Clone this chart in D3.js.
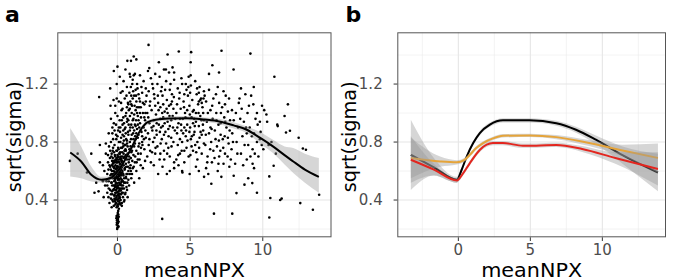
<!DOCTYPE html>
<html><head><meta charset="utf-8">
<script src="https://cdn.jsdelivr.net/npm/d3@7"></script>
<style>body{margin:0;background:#fff} text{font-family:"DejaVu Sans",sans-serif}</style>
</head><body><svg id="c" width="675" height="280"></svg>
<script>
// ---------- tick values ----------
const majorX = [0, 5, 10];
const minorX = [-2.5, 2.5, 7.5, 12.5];
const majorY = [0.4, 0.8, 1.2];
const minorY = [0.2, 0.6, 1.0, 1.4];
const tickLabelsX = ["0", "5", "10"];
const tickLabelsY = ["0.4", "0.8", "1.2"];

// ---------- panel a: scatter points [meanNPX, sqrt(sigma)] ----------
const pointsColumn = [[0.0,0.21],[0.05,0.22],[-0.05,0.23],[0.02,0.24],[0.08,0.25],[-0.03,0.26],[0.04,0.27],[0.0,0.28],[-0.06,0.29],[0.06,0.3],[0.02,0.31],[-0.02,0.2],[0.07,0.215],[-0.04,0.245],[0.03,0.255],[0.01,0.265],[-0.07,0.275],[0.09,0.285],[0.0,0.295],[0.05,0.325],[-0.02,0.235]];
const pointsCore = [[-0.25,0.36],[0.1,0.34],[-0.1,0.38],[0.2,0.37],[0.0,0.4],[-0.2,0.41],[0.15,0.42],[0.05,0.39],[-0.05,0.43],[0.25,0.44],[-0.15,0.45],[0.08,0.46],[-0.28,0.47],[0.18,0.48],[-0.02,0.49],[0.28,0.5],[-0.12,0.51],[0.12,0.52],[-0.22,0.53],[0.03,0.54],[0.22,0.55],[-0.08,0.56],[0.14,0.57],[-0.18,0.58],[0.06,0.59],[-0.26,0.6],[0.26,0.61],[-0.04,0.62],[0.1,0.63],[-0.14,0.64],[0.2,0.65],[0.0,0.66],[-0.24,0.67],[0.16,0.68],[-0.06,0.69],[0.24,0.7],
[0.02,0.355],[-0.09,0.405],[0.17,0.415],[-0.19,0.435],[0.11,0.445],[-0.01,0.455],[0.23,0.465],[-0.23,0.475],[0.07,0.485],[-0.11,0.495],[0.19,0.505],[-0.03,0.515],[0.27,0.525],[-0.17,0.535],[0.09,0.545],[-0.27,0.555],[0.13,0.565],[-0.07,0.575],[0.21,0.585],[-0.21,0.595],[0.04,0.605],[-0.13,0.615],[0.29,0.625],[-0.01,0.635],[0.17,0.645],[-0.29,0.655],[0.07,0.665],[-0.09,0.675],[0.27,0.685],[0.01,0.695],
[-0.16,0.39],[0.04,0.37],[0.14,0.395],[-0.06,0.35],[0.3,0.45],[0.09,0.43],[-0.1,0.47],[0.01,0.5],[0.16,0.51],[-0.2,0.5],[0.25,0.57],[-0.15,0.55],[0.05,0.56],[0.33,0.59],[-0.05,0.6],[0.12,0.61],[-0.25,0.63],[0.2,0.62],[-0.1,0.66],[0.3,0.67],[0.08,0.7],[-0.18,0.71],[0.18,0.73],[-0.03,0.74],[0.13,0.72],
[-0.45,0.41],[-0.38,0.46],[-0.3,0.39],[-0.22,0.43],[-0.14,0.37],[-0.07,0.42],[0.0,0.36],[0.07,0.41],[0.15,0.38],[0.22,0.4],[0.3,0.36],[0.38,0.42],[0.45,0.39],[0.52,0.44],[-0.42,0.52],[-0.34,0.55],[-0.26,0.5],[-0.18,0.54],[-0.1,0.52],[-0.02,0.55],[0.06,0.5],[0.14,0.54],[0.22,0.51],[0.3,0.54],[0.38,0.5],[0.46,0.55],[0.54,0.52],[-0.46,0.61],[-0.38,0.64],[-0.3,0.58],[-0.22,0.62],[-0.14,0.59],[-0.06,0.63],[0.02,0.58],[0.1,0.62],[0.18,0.59],[0.26,0.63],[0.34,0.6],[0.42,0.64],[0.5,0.61],[0.58,0.65],[-0.4,0.72],[-0.32,0.69],[-0.24,0.73],[-0.16,0.7],[-0.08,0.74],[0.0,0.71],[0.08,0.75],[0.16,0.72],[0.24,0.76],[0.32,0.73],[0.4,0.77],[0.48,0.74],[0.56,0.78],[-0.35,0.44],[-0.27,0.47],[-0.19,0.4],[-0.11,0.45],[-0.03,0.48],[0.05,0.44],[0.13,0.47],[0.21,0.44],[0.29,0.48],[0.37,0.45],[0.45,0.48],[-0.33,0.57],[-0.25,0.56],[-0.17,0.49],[-0.09,0.58],[-0.01,0.61],[0.09,0.57],[0.17,0.6],[0.25,0.58],[0.33,0.66],[0.41,0.57],[-0.37,0.67],[-0.29,0.63],[-0.21,0.66],[-0.13,0.68],[-0.05,0.66],[0.03,0.68],[0.11,0.66],[0.19,0.69],[0.27,0.67],[0.35,0.7],[0.43,0.69],[0.51,0.7],
[-0.5,0.47],[-0.6,0.53],[-0.55,0.64],[-0.65,0.71],[-0.7,0.5],[-0.5,0.74],[-0.42,0.58],[-0.62,0.42],[0.62,0.49],[0.68,0.52],[0.58,0.56],[0.72,0.63],[0.66,0.47],[0.75,0.54],
[-0.3,0.76],[-0.2,0.88],[-0.1,0.92],[0.0,0.84],[0.1,0.9],[0.2,0.8],[0.3,0.95],[0.4,0.88],[-0.35,0.86],[0.25,1.07],[-0.05,1.1],[0.35,1.15]];
const pointsLeft = [[-0.35,0.4],[-0.45,0.44],[-0.6,0.48],[-0.4,0.52],[-0.55,0.55],[-0.7,0.58],[-0.38,0.6],[-0.5,0.63],[-0.65,0.66],[-0.42,0.7],[-0.8,0.72],[-0.33,0.74],[-0.58,0.77],[-0.45,0.8],[-0.7,0.45],[-0.36,0.5],[-0.48,0.57],[-0.62,0.61],[-0.32,0.65],[-0.75,0.53],[-0.9,0.6],[-0.52,0.69],[-0.4,0.35],[-0.55,0.38],[-0.85,0.5],[-1.0,0.64],[-0.3,0.82],[-0.6,0.86],[-0.35,0.9],[-0.8,0.79],[-0.95,0.42],[-0.45,0.96],
[-1.26,1.11],[-0.5,1.17],[-0.25,1.29],[0.0,1.32],[-1.21,0.66],[-1.8,0.72],[-2.74,0.72],[-3.27,0.67],[-1.58,0.45],[-2.1,0.59],[-1.21,0.78],[-1.3,0.46],[-1.0,0.53],[-1.46,0.52],[-0.27,1.09],[-0.48,1.05],[-0.15,1.0]];
const pointsRise = [[0.35,0.48],[0.45,0.52],[0.6,0.55],[0.4,0.58],[0.75,0.6],[0.5,0.62],[0.9,0.64],[0.35,0.66],[0.65,0.68],[0.8,0.7],[0.42,0.72],[0.95,0.73],[0.55,0.75],[0.7,0.77],[0.38,0.79],[0.85,0.8],[0.6,0.82],[0.45,0.84],[0.98,0.85],[0.72,0.87],[0.5,0.89],[0.88,0.9],[0.35,0.92],[0.65,0.94],[0.55,0.45],[0.8,0.5],[0.95,0.55],[0.48,0.4],[0.7,0.42],[0.62,0.58],[0.4,0.64],[0.78,0.66],[0.52,0.69],[0.92,0.69],[0.58,0.71],[0.32,0.76],[0.82,0.75],[0.66,0.79],[0.44,0.81],[0.93,0.82],[0.57,0.86],[0.77,0.92],[0.4,0.97],[0.86,0.98],[0.6,1.0],[0.35,1.03],[0.75,1.06],[0.5,1.1],[0.95,1.12],[0.65,1.18],[0.42,1.22],[0.88,1.25],[0.55,1.3],[0.3,0.38],[0.85,0.58],[0.38,0.53],
[-0.2,0.78],[0.1,0.8],[0.25,0.83],[-0.1,0.85],[0.05,0.88],[0.2,0.9],[-0.25,0.93],[0.15,0.95],[0.0,0.98],[0.28,1.02],[-0.15,1.05],[0.1,1.08],[0.22,1.14],[-0.05,1.2],[0.16,1.25],[0.05,0.76],[-0.08,0.82],[0.18,0.87],
[0.6,0.63],[0.7,0.72],[0.8,0.68],[0.9,0.77],[1.0,0.74],[1.1,0.82],[1.2,0.79],[1.3,0.86],[1.4,0.83],[1.5,0.9],[1.6,0.88],[0.65,0.81],[0.75,0.85],[0.85,0.88],[0.95,0.92],[1.05,0.95],[1.15,0.88],[1.25,0.91],[1.35,1.0],[1.45,0.95],[1.55,1.0],[0.55,0.9],[0.68,0.96],[0.78,1.02],[0.88,1.08],[0.98,1.0],[1.08,1.15],[1.18,1.05],[1.28,1.12],[1.38,1.17],[1.48,1.04],[0.62,1.12],[0.72,1.07],[0.82,1.14],[0.92,1.18],[1.02,1.2],[1.12,1.26],[0.5,0.78],[0.58,0.74],[0.7,0.58],[0.85,0.62],[0.92,0.6],[1.02,0.67],[1.12,0.63],[1.22,0.7],[1.32,0.66],[1.42,0.72],[1.52,0.68],[1.62,0.76],[1.72,0.78],[1.82,0.82],[1.92,0.88],
[1.05,0.62],[1.2,0.66],[1.4,0.68],[1.1,0.71],[1.6,0.72],[1.3,0.74],[1.85,0.75],[1.15,0.77],[1.5,0.79],[1.7,0.8],[1.25,0.82],[1.95,0.83],[1.45,0.85],[1.08,0.86],[1.65,0.87],[1.35,0.89],[1.8,0.9],[1.2,0.92],[1.55,0.93],[1.9,0.95],[1.1,0.96],[1.4,0.98],[1.75,1.0],[1.25,1.02],[1.6,1.04],[1.0,1.05],[1.85,1.06],[1.3,1.08],[1.5,1.1],[1.15,1.12],[1.7,1.14],[1.95,1.17],[1.35,1.2],[1.05,1.23],[1.55,1.26],[1.8,1.22],[1.12,1.39],[1.3,1.37],[0.93,1.36],[0.68,1.36],[1.2,1.27],[0.84,1.27],[1.0,0.58],[1.3,0.6],[1.6,0.64],[1.9,0.67],[1.5,0.55],[1.15,0.52],[1.75,0.62],[1.4,0.92],[1.62,0.97],[1.28,0.95],[1.92,1.0],[1.05,0.9],[1.7,0.84],[1.45,0.77],[1.22,0.84],
[0.35,0.85],[0.45,0.93],[0.55,0.98],[0.65,1.04],[0.75,0.95],[0.85,1.03],[0.95,1.06],[1.05,1.1],[1.15,0.99],[1.25,1.16],[1.35,1.04],[1.45,1.13],[1.55,1.08],[1.65,1.18],[1.75,1.07],[1.85,0.97],[1.95,1.08]];
const pointsMid = [[2.05,0.7],[2.3,0.66],[2.6,0.72],[2.9,0.68],[3.2,0.74],[3.6,0.7],[3.9,0.66],[2.15,0.78],[2.45,0.8],[2.75,0.77],[3.05,0.82],[3.35,0.79],[3.7,0.83],[2.1,0.86],[2.4,0.88],[2.7,0.85],[3.0,0.9],[3.3,0.87],[3.6,0.91],[3.95,0.88],[2.2,0.93],[2.5,0.95],[2.85,0.92],[3.15,0.97],[3.45,0.94],[3.8,0.98],[2.05,1.0],[2.35,1.02],[2.65,0.99],[2.95,1.04],[3.25,1.01],[3.55,1.05],[3.85,1.03],[2.25,1.08],[2.55,1.1],[2.8,1.07],[3.1,1.12],[3.4,1.09],[3.75,1.13],[2.15,1.15],[2.45,1.17],[2.75,1.2],[3.05,1.18],[3.35,1.22],[3.65,1.2],[3.9,1.23],[2.3,1.24],[2.6,1.27],[2.9,1.25],[3.2,1.3],[3.55,1.28],[3.33,1.3],[3.79,1.315],[3.9,1.28],[3.45,1.404],[2.14,1.47],[2.19,1.31],[2.1,1.29],[3.08,0.27],[2.5,0.64],[3.1,0.63],[3.6,0.6],[2.8,0.58],[3.4,0.58],[3.9,0.62],[2.25,0.74],[2.95,0.72],[3.5,0.76],[2.55,0.83],[3.2,0.85],[3.85,0.8],[2.35,0.9],[2.95,0.96],[3.7,0.95],[2.6,1.05],[3.45,1.0],[2.0,1.12],[3.0,1.15],[3.6,1.16],[2.85,1.35],[2.4,1.2],[3.15,1.06],[2.7,0.93],[3.5,0.89],[2.2,0.82],[3.25,0.93],[3.75,1.08],
[2.12,0.97],[2.38,0.73],[2.52,1.13],[2.68,0.88],[2.83,1.02],[2.97,0.79],[3.12,0.91],[3.28,1.16],[3.42,0.72],[3.58,0.98],[3.72,0.77],[3.88,1.11],[2.22,1.05],[2.48,0.91],[2.62,0.76],[2.78,1.12],[2.92,0.87],[3.08,1.0],[3.22,0.68],[3.38,1.03],[3.52,0.84],[3.68,1.06],[3.82,0.9],[3.98,0.96],
[4.05,0.68],[4.3,0.72],[4.6,0.66],[4.9,0.7],[5.2,0.74],[5.5,0.68],[5.8,0.72],[4.15,0.78],[4.45,0.8],[4.75,0.76],[5.05,0.82],[5.35,0.78],[5.65,0.83],[5.95,0.79],[4.1,0.86],[4.4,0.88],[4.7,0.84],[5.0,0.9],[5.3,0.87],[5.6,0.91],[5.9,0.88],[4.2,0.93],[4.5,0.96],[4.8,0.92],[5.1,0.97],[5.4,0.94],[5.7,0.98],[4.05,1.0],[4.35,1.03],[4.65,1.0],[4.95,1.05],[5.25,1.02],[5.55,1.06],[5.85,1.04],[4.25,1.1],[4.55,1.08],[4.85,1.12],[5.15,1.09],[5.45,1.13],[5.75,1.1],[4.15,1.17],[4.45,1.2],[4.75,1.16],[5.05,1.19],[5.35,1.22],[5.65,1.18],[5.95,1.15],[4.4,1.24],[4.9,1.25],[5.04,1.26],[5.6,1.08],[5.7,1.09],[5.8,1.07],[4.22,1.425],[5.07,1.42],[5.04,1.35],[4.47,0.59],[4.97,0.58],[5.96,0.56],[4.45,0.6],[4.2,0.64],[5.4,0.63],[5.6,0.6],[4.6,0.74],[5.1,0.77],[5.8,0.85],[4.3,0.82],[4.95,0.87],[5.5,0.8],[4.6,0.9],[5.2,0.93],[5.95,0.95],[4.8,1.02],[5.4,1.0],[4.1,1.06],[5.0,1.14],[5.6,1.14],[4.6,1.13],[4.3,0.96],[5.25,0.85],[5.9,1.0],[4.7,1.2],
[4.12,0.9],[4.28,1.14],[4.42,0.74],[4.58,1.04],[4.72,0.88],[4.88,1.18],[5.02,0.71],[5.18,1.01],[5.32,0.91],[5.48,1.17],[5.62,0.76],[5.78,0.95],[5.92,1.1],[4.18,0.71],[4.38,0.92],[4.52,0.86],[4.68,0.97],[4.82,0.81],[4.98,0.99],[5.12,0.84],[5.28,0.96],[5.42,0.73],[5.58,1.0],[5.72,0.87],[5.88,0.92]];
const pointsRight = [[6.1,0.62],[6.5,0.66],[6.9,0.6],[7.3,0.65],[7.7,0.63],[6.2,0.7],[6.6,0.74],[7.0,0.7],[7.4,0.72],[7.8,0.68],[6.05,0.78],[6.45,0.8],[6.85,0.77],[7.25,0.82],[7.65,0.79],[6.3,0.86],[6.7,0.88],[7.1,0.85],[7.5,0.9],[7.9,0.86],[6.15,0.94],[6.55,0.96],[6.95,0.92],[7.35,0.97],[7.75,0.95],[6.4,1.02],[6.8,1.0],[7.2,1.04],[7.6,1.01],[6.1,1.08],[6.6,1.1],[7.0,1.07],[7.45,1.12],[6.3,1.16],[6.9,1.18],[7.3,1.15],[6.53,1.33],[7.16,1.43],[6.99,1.28],[6.3,1.27],[6.64,0.306],[6.46,0.512],[7.9,0.306],[7.99,1.3],[6.0,1.12],[7.1,0.93],[6.75,0.82],[7.6,0.83],[6.25,0.58],[7.15,0.56],[7.85,0.75],[6.4,0.9],[7.4,1.06],[6.95,0.65],
[6.08,0.85],[6.22,1.0],[6.38,0.75],[6.52,1.05],[6.68,0.69],[6.82,0.95],[6.98,0.81],[7.12,1.0],[7.28,0.76],[7.42,0.94],[7.58,0.7],[7.72,0.88],[7.88,1.02],[6.18,0.66],[6.48,0.89],[6.78,1.13],[7.08,0.74],[7.38,0.84],[7.68,1.1],[7.95,0.8],
[8.1,0.65],[8.5,0.72],[8.9,0.68],[9.3,0.75],[9.7,0.7],[8.2,0.8],[8.6,0.84],[9.0,0.78],[9.4,0.86],[9.8,0.82],[8.3,0.9],[8.7,0.94],[9.1,0.9],[9.5,0.96],[8.15,1.0],[8.55,1.03],[8.95,1.0],[9.35,1.06],[8.4,1.1],[8.8,1.13],[9.2,1.12],[9.15,1.41],[9.38,1.18],[9.95,1.05],[9.4,0.62],[9.3,0.65],[9.6,0.45],[9.28,0.517],[8.74,0.506],[8.19,0.448],[8.0,0.568],[8.5,1.17],[9.0,0.55],[9.6,1.0],[8.0,0.95],[9.8,0.94],[8.9,0.86],[9.6,0.8],[9.93,0.78],
[8.25,0.72],[8.45,0.96],[8.65,0.64],[8.85,0.9],[9.05,1.05],[9.25,0.84],[9.45,0.72],[9.65,0.92],[9.85,0.87],[8.35,1.07],[8.75,0.78],[9.15,0.7],
[10.4,0.78],[10.04,0.75],[10.25,0.99],[10.3,0.94],[10.8,1.25],[11.73,1.06],[11.03,0.91],[11.0,0.92],[11.87,0.878],[11.6,0.866],[12.47,0.83],[12.76,0.756],[12.97,0.747],[10.75,0.637],[10.45,0.563],[11.2,0.4],[11.3,0.41],[10.52,0.414],[10.45,0.28],[12.58,0.379],[13.45,0.333],[13.88,0.436],[10.6,0.8],[10.1,1.02],[11.5,0.98],[10.9,0.72]];
const scatterPoints = pointsColumn.concat(pointsCore, pointsLeft, pointsRise, pointsMid, pointsRight);

// ---------- panel a: smooth fit ----------
const fitAx  = [-3.25,-2.5,-1.8,-1.1,-0.5,0.1,0.9,1.6,2.05,2.75,3.5,4.8,6.0,7.0,8.0,8.9,9.8,10.7,11.5,12.1,12.9,13.86];
const fitAy  = [0.728,0.666,0.574,0.54,0.55,0.61,0.747,0.885,0.935,0.955,0.962,0.965,0.955,0.942,0.915,0.885,0.83,0.77,0.71,0.666,0.61,0.56];
const fitAlo = [0.563,0.55,0.528,0.52,0.535,0.595,0.732,0.87,0.92,0.94,0.947,0.95,0.94,0.925,0.893,0.862,0.79,0.724,0.645,0.586,0.52,0.45];
const fitAhi = [0.897,0.77,0.632,0.56,0.565,0.625,0.762,0.9,0.95,0.97,0.977,0.98,0.97,0.96,0.937,0.907,0.87,0.816,0.77,0.759,0.72,0.69];

// ---------- panel b: three smooth fits ----------
const blackX  = [-3.3,-1.7,-0.1,0.23,0.58,1.03,1.49,2.19,3.1,4.94,6.8,8.17,9.55,11.4,13.86];
const blackY  = [0.712,0.626,0.54,0.609,0.70,0.793,0.862,0.92,0.95,0.95,0.93,0.885,0.816,0.71,0.59];
const blackLo = [0.47,0.57,0.52,0.59,0.685,0.778,0.847,0.905,0.935,0.935,0.913,0.865,0.786,0.65,0.46];
const blackHi = [0.954,0.69,0.56,0.628,0.715,0.808,0.877,0.935,0.965,0.965,0.947,0.905,0.846,0.77,0.72];
const goldX  = [-3.3,-1.26,-0.11,0.4,0.8,1.2,1.72,2.4,3.1,4.94,6.8,9.08,11.4,13.86];
const goldY  = [0.69,0.666,0.66,0.675,0.712,0.755,0.793,0.825,0.843,0.846,0.834,0.793,0.742,0.69];
const goldLo = [0.55,0.63,0.645,0.66,0.698,0.742,0.781,0.813,0.831,0.834,0.82,0.772,0.702,0.59];
const goldHi = [0.83,0.70,0.675,0.69,0.726,0.768,0.805,0.837,0.855,0.858,0.848,0.814,0.782,0.79];
const redX  = [-3.3,-1.7,-0.1,0.3,0.8,1.5,2.4,3.1,4.48,5.4,6.8,8.6,10.9,13.86];
const redY  = [0.678,0.61,0.535,0.58,0.655,0.747,0.793,0.793,0.775,0.775,0.78,0.752,0.69,0.614];
const redLo = [0.52,0.57,0.52,0.565,0.64,0.732,0.778,0.778,0.76,0.76,0.765,0.732,0.65,0.5];
const redHi = [0.84,0.65,0.55,0.595,0.67,0.762,0.808,0.808,0.79,0.79,0.795,0.772,0.73,0.73];

// ---------- drawing ----------
const svg = d3.select("#c");
function zip(xs, ys, lo, hi) { return xs.map((x, i) => ({x, y: ys[i], lo: lo[i], hi: hi[i]})); }

function panel(cfg) {
  const x = d3.scaleLinear().domain(cfg.xDomain).range([cfg.left, cfg.right]);
  const y = d3.scaleLinear().domain([0.143, 1.557]).range([cfg.bottom, cfg.top]);
  const g = svg.append("g");
  g.append("rect").attr("x", cfg.left).attr("y", cfg.top).attr("width", cfg.right - cfg.left).attr("height", cfg.bottom - cfg.top).attr("fill", "#fff");
  const grid = g.append("g");
  minorX.forEach(v => grid.append("line").attr("x1", x(v)).attr("x2", x(v)).attr("y1", cfg.top).attr("y2", cfg.bottom).attr("stroke", "#ebebeb").attr("stroke-width", 0.6));
  minorY.forEach(v => grid.append("line").attr("y1", y(v)).attr("y2", y(v)).attr("x1", cfg.left).attr("x2", cfg.right).attr("stroke", "#ebebeb").attr("stroke-width", 0.6));
  majorX.forEach(v => grid.append("line").attr("x1", x(v)).attr("x2", x(v)).attr("y1", cfg.top).attr("y2", cfg.bottom).attr("stroke", "#e6e6e6").attr("stroke-width", 1.1));
  majorY.forEach(v => grid.append("line").attr("y1", y(v)).attr("y2", y(v)).attr("x1", cfg.left).attr("x2", cfg.right).attr("stroke", "#e6e6e6").attr("stroke-width", 1.1));

  cfg.draw(g, x, y);

  g.append("rect").attr("x", cfg.left + 0.5).attr("y", cfg.top + 0.5).attr("width", cfg.right - cfg.left - 1).attr("height", cfg.bottom - cfg.top - 1).attr("fill", "none").attr("stroke", "#555").attr("stroke-width", 1);

  majorX.forEach((v, i) => {
    g.append("line").attr("x1", x(v)).attr("x2", x(v)).attr("y1", cfg.bottom).attr("y2", cfg.bottom + 3.7).attr("stroke", "#333").attr("stroke-width", 1);
    g.append("text").attr("x", x(v)).attr("y", 255).attr("text-anchor", "middle").attr("font-size", 15).attr("fill", "#4d4d4d").text(tickLabelsX[i]);
  });
  majorY.forEach((v, i) => {
    g.append("line").attr("x1", cfg.left - 3.7).attr("x2", cfg.left).attr("y1", y(v)).attr("y2", y(v)).attr("stroke", "#333").attr("stroke-width", 1);
    g.append("text").attr("x", cfg.yLabelX).attr("y", y(v)).attr("dy", "0.36em").attr("text-anchor", "end").attr("font-size", 15).attr("fill", "#4d4d4d").text(tickLabelsY[i]);
  });
  g.append("text").attr("x", (cfg.left + cfg.right) / 2).attr("y", 276.5).attr("text-anchor", "middle").attr("font-size", 20)
    .attr("textLength", 101).attr("lengthAdjust", "spacingAndGlyphs").attr("fill", "#000").text("meanNPX");
  g.append("text").attr("transform", `translate(${cfg.yTitleX},${(cfg.top + cfg.bottom) / 2 + 2}) rotate(-90)`).attr("text-anchor", "middle").attr("font-size", 20)
    .attr("textLength", 111).attr("lengthAdjust", "spacingAndGlyphs").attr("fill", "#000").text("sqrt(sigma)");
  g.append("text").attr("x", cfg.letterX).attr("y", 21.7).attr("font-size", 22).attr("font-weight", "bold").attr("fill", "#000").text(cfg.letter);
}

const area = (x, y) => d3.area().x(d => x(d.x)).y0(d => y(d.lo)).y1(d => y(d.hi)).curve(d3.curveMonotoneX);
const line = (x, y) => d3.line().x(d => x(d.x)).y(d => y(d.y)).curve(d3.curveMonotoneX);

panel({
  left: 57.3, right: 331.5, top: 32.3, bottom: 237.3, xDomain: [-4.14, 14.73],
  yLabelX: 48.5, yTitleX: 21, letterX: 5, letter: "a",
  draw: (g, x, y) => {
    g.append("g").selectAll("circle").data(scatterPoints).join("circle")
      .attr("cx", d => x(d[0])).attr("cy", d => y(d[1])).attr("r", 1.3).attr("fill", "#000");
    const fit = zip(fitAx, fitAy, fitAlo, fitAhi);
    g.append("path").datum(fit).attr("d", area(x, y)).attr("fill", "#999").attr("fill-opacity", 0.4);
    g.append("path").datum(fit).attr("d", line(x, y)).attr("fill", "none").attr("stroke", "#000").attr("stroke-width", 2);
  }
});

panel({
  left: 397.3, right: 666, top: 32.3, bottom: 237.3, xDomain: [-4.24, 14.42],
  yLabelX: 382.7, yTitleX: 356, letterX: 345.5, letter: "b",
  draw: (g, x, y) => {
    const groups = [
      {d: zip(blackX, blackY, blackLo, blackHi), c: "#000000"},
      {d: zip(goldX, goldY, goldLo, goldHi), c: "#e5a43a"},
      {d: zip(redX, redY, redLo, redHi), c: "#e3261f"}
    ];
    groups.forEach(gr => {
      g.append("path").datum(gr.d).attr("d", area(x, y)).attr("fill", "#999").attr("fill-opacity", 0.4);
      g.append("path").datum(gr.d).attr("d", line(x, y)).attr("fill", "none").attr("stroke", gr.c).attr("stroke-width", 2);
    });
  }
});
</script></body></html>
